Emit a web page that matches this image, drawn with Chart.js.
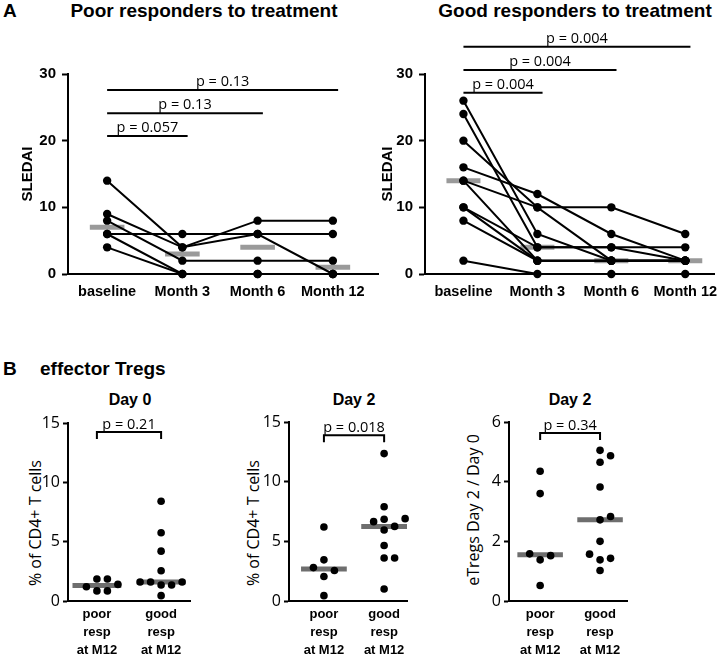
<!DOCTYPE html>
<html>
<head>
<meta charset="utf-8">
<script src="https://cdn.jsdelivr.net/npm/chart.js@4.4.1/dist/chart.umd.min.js"></script>
<style>
  body { margin: 0; width: 727px; height: 657px; position: relative; background: #fff; overflow: hidden;
         font-family: 'Liberation Sans', Arial, sans-serif; color: #000; }
  canvas { position: absolute; }
  .lbl { position: absolute; font-weight: bold; line-height: 1; white-space: nowrap; }
  .ctr { transform: translateX(-50%); }
  .ytitle { position: absolute; font-family: 'Open Sans', sans-serif; font-size: 16px; white-space: nowrap;
            line-height: 1; transform: translate(-50%, -50%) rotate(-90deg); }
</style>
</head>
<body>
<div class="lbl" style="left:3px;top:1px;font-size:19px">A</div>
<div class="lbl ctr" style="left:204px;top:1px;font-size:19px">Poor responders to treatment</div>
<div class="lbl ctr" style="left:575px;top:1px;font-size:19px">Good responders to treatment</div>
<div class="lbl" style="left:3px;top:359px;font-size:19px">B</div>
<div class="lbl" style="left:40px;top:359px;font-size:19px">effector Tregs</div>
<div class="lbl ctr" style="left:130px;top:392px;font-size:16px">Day 0</div>
<div class="lbl ctr" style="left:354px;top:392px;font-size:16px">Day 2</div>
<div class="lbl ctr" style="left:570px;top:392px;font-size:16px">Day 2</div>
<div class="ytitle" style="left:35px;top:523px">% of CD4+ T cells</div>
<div class="ytitle" style="left:253px;top:523px">% of CD4+ T cells</div>
<div class="ytitle" style="left:473px;top:510px">eTregs Day 2 / Day 0</div>

<canvas id="poorChart" width="385" height="320" style="left:0;top:0"></canvas>
<canvas id="goodChart" width="370" height="320" style="left:357px;top:0"></canvas>
<canvas id="day0Chart" width="200" height="277" style="left:0;top:380px"></canvas>
<canvas id="day2Chart" width="200" height="277" style="left:220px;top:380px"></canvas>
<canvas id="ratioChart" width="200" height="277" style="left:440px;top:380px"></canvas>

<script>
// panel A: SLEDAI per patient at each visit
const timepoints = ['baseline', 'Month 3', 'Month 6', 'Month 12'];
const poorSledai = [
    [14, 4, 8, 8],
    [9, 4, 6, 0],
    [8, 2, 2, 2],
    [6, 6, 6, 6],
    [6, 0, 0, 0],
    [4, 0, 0, 0]
];
const goodSledai = [
    [26, 6, 2, 2],
    [24, 4, 4, 4],
    [20, 10, 10, 6],
    [16, 12, 6, 2],
    [14, 10, 2, 2],
    [14, 2, 2, 2],
    [10, 4, 4, 2],
    [10, 2, 2, 2],
    [8, 2, 2, 2],
    [2, 0, 0, 0]
];
const poorPvalues = ['p = 0.057', 'p = 0.13', 'p = 0.13'];
const goodPvalues = ['p = 0.004', 'p = 0.004', 'p = 0.004'];

// panel B: effector Tregs
const responseGroups = [['poor', 'resp', 'at M12'], ['good', 'resp', 'at M12']];
const day0Poor = [1.2, 1.85, 0.85, 1.85, 0.85, 1.4];
const day0Good = [8.4, 5.75, 4.2, 2.55, 1.6, 1.35, 1.6, 1.35, 1.6, 0.45];
const day2Poor = [6.2, 3.45, 2.8, 2.55, 2.05, 0.45];
const day2Good = [12.35, 7.9, 6.9, 6.85, 6.65, 6.25, 5.95, 4.65, 3.6, 3.6, 1.0];
const ratioPoor = [4.35, 3.6, 1.58, 1.52, 1.38, 0.52];
const ratioGood = [5.05, 4.87, 4.65, 3.82, 2.83, 2.72, 2.0, 1.57, 1.43, 1.38, 1.02];
const pDay0 = 'p = 0.21';
const pDay2 = 'p = 0.018';
const pRatio = 'p = 0.34';

Chart.defaults.color = '#000';
Chart.defaults.font.family = "'Liberation Sans', Arial, sans-serif";
Chart.defaults.animation = false;

function median(vals) {
    const s = vals.slice().sort((a, b) => a - b);
    const m = Math.floor(s.length / 2);
    return s.length % 2 ? s[m] : (s[m - 1] + s[m]) / 2;
}

// simple beeswarm: returns x offsets (in x units) so dots don't overlap
function swarm(vals, pxX, pxY) {
    const step = 10.5, minDist = 9.5;
    const idx = vals.map((v, i) => i).sort((a, b) => vals[a] - vals[b]);
    const placed = [];
    const offs = vals.map(() => 0);
    idx.forEach(i => {
        const y = vals[i] * pxY;
        for (let k = 0; k < 30; k++) {
            const c = k === 0 ? 0 : (k % 2 ? 1 : -1) * Math.ceil(k / 2) * step;
            if (placed.every(p => Math.hypot(p.x - c, p.y - y) >= minDist)) {
                placed.push({ x: c, y: y });
                offs[i] = c / pxX;
                break;
            }
        }
    });
    return offs;
}

// significance bars / brackets with p value text
const sigPlugin = {
    id: 'sig',
    afterDatasetsDraw(chart, args, opts) {
        const { ctx, scales: { x, y } } = chart;
        ctx.save();
        ctx.strokeStyle = '#000';
        ctx.fillStyle = '#000';
        ctx.lineWidth = 2;
        ctx.font = opts.font;
        ctx.textAlign = 'center';
        ctx.textBaseline = 'alphabetic';
        opts.items.forEach(it => {
            const x1 = x.getPixelForValue(it.from);
            const x2 = x.getPixelForValue(it.to);
            const py = y.getPixelForValue(it.y);
            ctx.beginPath();
            if (it.tick) {
                ctx.moveTo(x1, py + it.tick);
                ctx.lineTo(x1, py);
                ctx.lineTo(x2, py);
                ctx.lineTo(x2, py + it.tick);
            } else {
                ctx.moveTo(x1, py);
                ctx.lineTo(x2, py);
            }
            ctx.stroke();
            ctx.fillText(it.text, (x1 + x2) / 2, py - opts.gap);
        });
        ctx.restore();
    }
};

function sledaiChart(id, rows, pvals, barLevels, xMax, padRight, titlePad) {
    const datasets = rows.map(r => ({
        data: r.map((v, i) => ({ x: i, y: v })),
        showLine: true,
        borderColor: '#000',
        backgroundColor: '#000',
        borderWidth: 2,
        pointRadius: 4.2,
        pointHoverRadius: 4.2,
        pointBorderWidth: 0,
        clip: false,
        order: 0
    }));
    timepoints.forEach((t, i) => {
        const m = median(rows.map(r => r[i]));
        datasets.push({
            data: [{ x: i - 0.23, y: m }, { x: i + 0.23, y: m }],
            showLine: true,
            borderColor: '#9a9a9a',
            borderWidth: 5,
            borderCapStyle: 'butt',
            pointRadius: 0,
            clip: false,
            order: 5
        });
    });
    return new Chart(document.getElementById(id), {
        type: 'scatter',
        data: { datasets },
        options: {
            responsive: false,
            layout: { padding: { left: 0, top: 74, right: padRight, bottom: 0 } },
            plugins: {
                legend: { display: false },
                tooltip: { enabled: false },
                sig: {
                    font: "14.5px 'Open Sans'",
                    gap: 4,
                    items: pvals.map((p, k) => ({ from: 0, to: k + 1.07, y: barLevels[k], text: p }))
                }
            },
            scales: {
                x: {
                    type: 'linear',
                    min: -0.52,
                    max: xMax,
                    afterBuildTicks: s => { s.ticks = timepoints.map((t, i) => ({ value: i })); },
                    afterFit: s => { s.height = 46; },
                    grid: { display: false, drawTicks: false },
                    border: { display: true, color: '#000', width: 2 },
                    ticks: {
                        autoSkip: false, maxRotation: 0, padding: 9,
                        font: { size: 14.5, weight: 'bold' },
                        callback: v => timepoints[v]
                    }
                },
                y: {
                    min: 0,
                    max: 30,
                    afterFit: s => { s.width = 68; },
                    grid: { drawOnChartArea: false, drawTicks: true, tickLength: 6, tickColor: '#000', tickWidth: 2 },
                    border: { display: true, color: '#000', width: 2 },
                    ticks: { stepSize: 10, padding: 6, font: { size: 15, weight: 'bold' } },
                    title: {
                        display: true, text: 'SLEDAI',
                        font: { size: 15, weight: 'bold' },
                        padding: { top: titlePad, bottom: 0 }
                    }
                }
            }
        },
        plugins: [sigPlugin]
    });
}

sledaiChart('poorChart', poorSledai, poorPvalues, [20.7, 24.1, 27.6], 3.6, 7, 19);
sledaiChart('goodChart', goodSledai, goodPvalues, [27.2, 30.6, 34.1], 3.4, 9, 22);

function tregChart(id, poor, good, pText, o) {
    const plotW = o.width - o.yAxisW - o.padR;
    const pxX = plotW / (o.xMax - o.xMin);
    const pxY = o.plotH / o.yMax;
    const datasets = [];
    [poor, good].forEach((vals, g) => {
        const offs = swarm(vals, pxX, pxY);
        datasets.push({
            data: vals.map((v, i) => ({ x: g + offs[i], y: v })),
            backgroundColor: '#000',
            pointRadius: 3.8,
            pointHoverRadius: 3.8,
            pointBorderWidth: 0,
            clip: false,
            order: 0
        });
        const m = median(vals);
        datasets.push({
            data: [{ x: g - 0.38, y: m }, { x: g + 0.38, y: m }],
            showLine: true,
            borderColor: '#6e6e6e',
            borderWidth: 5,
            borderCapStyle: 'butt',
            pointRadius: 0,
            clip: false,
            order: 5
        });
    });
    return new Chart(document.getElementById(id), {
        type: 'scatter',
        data: { datasets },
        options: {
            responsive: false,
            layout: { padding: { left: 0, top: o.padT, right: o.padR, bottom: 0 } },
            plugins: {
                legend: { display: false },
                tooltip: { enabled: false },
                sig: {
                    font: "14.5px 'Open Sans'",
                    gap: 3,
                    items: [{ from: 0, to: 1, y: o.bracketY, text: pText, tick: 7 }]
                }
            },
            scales: {
                x: {
                    type: 'linear',
                    min: o.xMin,
                    max: o.xMax,
                    afterBuildTicks: s => { s.ticks = responseGroups.map((g, i) => ({ value: i })); },
                    afterFit: s => { s.height = 56; },
                    grid: { display: false, drawTicks: false },
                    border: { display: true, color: '#000', width: 2 },
                    ticks: {
                        autoSkip: false, maxRotation: 0, padding: 4,
                        font: { size: 13, weight: 'bold', lineHeight: 1.4 },
                        callback: v => responseGroups[v]
                    }
                },
                y: {
                    min: 0,
                    max: o.yMax,
                    afterFit: s => { s.width = o.yAxisW; },
                    grid: { drawOnChartArea: false, drawTicks: true, tickLength: 5, tickColor: '#000', tickWidth: 2 },
                    border: { display: true, color: '#000', width: 2 },
                    ticks: { stepSize: o.yStep, padding: 3, font: { family: "'Open Sans'", size: 16 } }
                }
            }
        },
        plugins: [sigPlugin]
    });
}

tregChart('day0Chart', day0Poor, day0Good, pDay0,
    { width: 200, yAxisW: 68, padR: 10, padT: 43, plotH: 178, xMin: -0.45, xMax: 1.45, yMax: 15, yStep: 5, bracketY: 14.25 });
tregChart('day2Chart', day2Poor, day2Good, pDay2,
    { width: 200, yAxisW: 69, padR: 13, padT: 42, plotH: 179, xMin: -0.58, xMax: 1.38, yMax: 15, yStep: 5, bracketY: 13.9 });
tregChart('ratioChart', ratioPoor, ratioGood, pRatio,
    { width: 200, yAxisW: 69, padR: 13, padT: 42, plotH: 179, xMin: -0.52, xMax: 1.45, yMax: 6, yStep: 2, bracketY: 5.63 });
</script>
</body>
</html>
